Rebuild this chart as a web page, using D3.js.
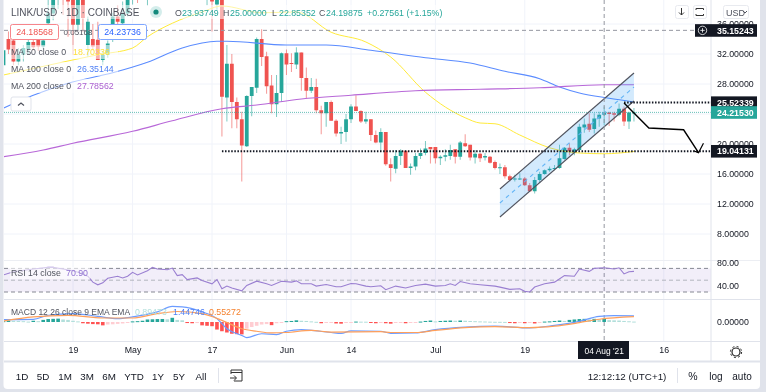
<!DOCTYPE html>
<html>
<head>
<meta charset="utf-8">
<script src="https://cdn.jsdelivr.net/npm/d3@7"></script>
<style>
html, body { margin: 0; padding: 0; background: #e0e3eb; overflow: hidden; }
svg { display: block; filter: blur(0.35px); }
text { font-family: "Liberation Sans", Arial, sans-serif; }
</style>
</head>
<body>
<svg id="chart" width="766" height="392"></svg>
<script>
// LINK/USD daily candles, 5 Apr 2021 to 9 Aug 2021
const firstDay = "2021-04-05";
const opens = [30.5,34,33.8,31,31.9,32.6,33.6,33.9,33,36.1,37.4,39.5,40.5,41,41,35.9,41,33.2,34,33.9,31.2,31.9,34.3,37,36.1,37.4,39.2,40.5,40,41,42,43,44,45,44.5,45.5,47,45.5,44,45,43,41,
  41,38.6,41,26.2,30.7,25.6,23.3,19.7,26.4,27.5,34,31.7,27.8,25.3,26.8,32.1,30.8,30.6,32.2,28.8,27.1,27.6,24.5,24.1,25.6,23.1,21.4,21.6,23.3,25,24.4,23,23.3,21.2,20.2,21.6,17.3,16.7,18.4,19.1,16.8,17,18.4,18.8,19.6,19.6,18.1,18.3,18.4,19.3,18.3,20.1,19.9,18.2,
  18.7,18.2,18.3,17.6,16.8,16.9,15.7,15.3,15.3,15.4,14.5,13.7,15.2,16,16.5,16.7,16.8,18,19.5,18.9,19.2,22.2,22.7,22,23.4,23.9,24.2,24.1,23.9,24.7,23,24.1];
const highs = [33,35,34.5,32.8,33.2,34,34.5,34.8,34.2,39.5,40,41,41,42,42,42,42,37,36,36.3,32.4,33.8,37.5,38.5,39,40,41,42,42,43,44,45,46,47,46,48,49,47,46,46,45,44,
  43,42,43,33.2,32,26.2,24.3,26.5,27.6,34.2,35.3,32.3,29.2,29.2,32.2,32.6,32.1,32.9,32.2,30.2,28.8,28.7,25.1,25.6,25.8,23.3,22.3,24,25.3,26.5,24.5,24.3,23.3,21.8,22.1,21.6,18.1,19.2,19.3,19.1,17.4,18.8,19.4,20.4,19.6,19.6,18.5,19.3,19.9,19.3,20.4,21.3,19.9,19.2,
  18.8,18.8,18.4,17.8,17.4,17.2,15.9,15.9,16.1,15.6,14.8,15.6,16.3,16.6,17,17.2,19.9,19.6,20.1,19.5,22.7,23.4,24.1,24.1,24.3,25,24.3,24.3,25.4,25,24.3,24.8];
const lows = [29.5,32,30.5,30.5,31,32,32.5,32.4,32.6,35,36.5,38,37.2,34.3,31.9,35.2,35,31.6,32.5,31.2,30.5,31.5,33.6,35.8,35.5,37,38.6,38.8,39.5,38.5,41,42,43,44,43,44,45,43,42.5,42,40.5,38.5,
  35,37.9,21,23,22.1,22.1,15,19.6,23.7,26.8,30.4,26.7,24.1,23.6,25.6,29.2,29.6,30,27.1,26.1,26.8,24.1,21.3,22.3,23.1,21,20,20.3,22.8,24.4,22.8,22.7,20.4,20.1,19.1,17.1,15,16.1,17.2,16.8,15.9,16.5,18,18.5,17.4,17.4,17.2,17.7,17.9,17.4,17.9,19.6,17.8,17.4,
  17.6,17.8,17.4,16.6,16,15.4,15,15,15.2,14.4,13.6,13.4,14.8,15.9,16.3,16.5,16.7,17.9,18.5,18.5,19.1,21.5,21.6,21.4,22.3,22.5,22.4,23,23.7,22.4,22,23];
const closes = [32.5,32.6,31,31.9,32.8,33.6,32.9,33,33.8,37.4,39.3,40.5,39.6,39,35.9,41,36.8,36.3,33,31.2,31.9,33.4,37,36.3,37.4,39.2,40.5,39.8,41,42,43,44,45,44.5,45.5,47,45.5,44,45,43,41,42,
  39,41,26.3,30.7,25.6,23.3,19.8,26.4,27.6,34,31.6,27.7,25.3,26.8,32.1,30.6,30.7,32.2,28.8,27.1,27.6,24.5,24.1,25.6,23.1,21.4,21.6,23.3,25,24.4,23,23.3,21.2,20.2,21.6,17.3,16.8,18.4,19.1,16.8,17,18.4,18.8,19.4,19.3,18.1,18.3,18.5,19.2,18.3,20.2,19.7,18.2,18.7,
  18.1,18.4,17.5,16.8,16.9,15.7,15.2,15.4,15.4,14.5,13.7,15.2,16,16.5,16.7,16.8,18.1,19.5,19,19.3,22.3,22.6,21.9,23.4,23.9,24.2,24,23.9,24.7,23,24.2,24.2];

// moving averages, read every few days: day number counted from 17 May
const ma50Days = [-42,-33,-23,-16,-13,-8,-2,2,10,17,24,31,36,43,51,54,57,62,68,74,79,85];
const ma50Values = [29.2,30.5,31.9,32.8,34.3,36.1,37.6,38.4,37.5,37.6,34.9,33.6,31.6,26.9,23.5,22.8,22.7,21.2,19.5,18.8,18.7,19];
const ma100Days = [-42,-36,-29,-20,-13,-6,1,3,15,23,32,43,52,59,66,70,74,80,85];
const ma100Values = [24.8,26.5,28.1,29.5,30.9,32.8,33.7,33.7,33.2,33.2,32.5,31.5,30.8,29.7,28.7,27.6,26.8,26.1,25.6];
const ma200Days = [-42,-34,-28,-16,-8,2,9,18,28,41,54,66,79,85];
const ma200Values = [18.3,19.2,20.1,21.7,23.1,24.7,25.2,26,26.5,27.1,27.3,27.5,27.9,27.9];

// RSI 14
const rsiDays = [-42,-40,-36,-33,-32,-30,-28,-27,-25,-24,-23,-22,-21,-19,-18,-17,-16,-15,-13,-12,-11,-9,-8,-7,-6,-5,-3,-2,0,1,2,3,4,6,7,9,11,12,14,16,17,18,20,21,23,25,26,28,29,31,32,34,35,37,39,41,43,45,47,48,49,50,52,54,57,58,60,62,63,64,65,67,69,71,73,74,76,77,79,81,82,83,84,85];
const rsiValues = [58.9,64.4,68.9,71.7,71.7,68.9,66.1,63.3,56.7,46.7,42.2,45.6,53.3,56.7,53.9,56.7,63.3,58.9,66.1,71.7,68.9,67.8,70.6,57.8,59.4,51.1,53.9,49.4,43.9,51.1,35.6,40,36.7,32,41.1,48.3,43.9,41.1,48.3,46.7,48.9,43.9,43.9,40,42.8,38.9,38.9,44.4,43.9,40,38.9,40.6,33.9,40,36.7,41.1,43.3,40,41.1,43.9,41.1,47.8,43.9,42.2,40,38.3,34.4,35.6,31.1,30,38.3,43.9,46.7,57.8,56.7,68.9,65,70,71.1,68.9,71.1,60.6,64.4,65];

// MACD 12 26 9
const macdDays = [-42,-36,-33,-28,-23,-19,-16,-11,-8,-6,-2,1,3,6,7,10,13,15,18,24,26,28,34,36,41,45,51,57,64,69,74,78,81,85];
const macdValues = [0.55,0.63,1.6,2,1.35,0.8,1.2,2.4,3.7,3.6,2.4,0.8,-1.6,-3.2,-3.7,-2.8,-3,-2.2,-1.8,-2.5,-2.7,-2.1,-2.2,-2.7,-2.6,-1.8,-1.2,-1,-1.4,-0.8,0.15,1.35,1.5,1.45];
const signalDays = [-42,-36,-29,-22,-16,-11,-7,-2,2,6,9,12,15,20,24,34,36,41,45,51,57,64,69,74,78,85];
const signalValues = [0.24,1.2,1.6,0.95,0.95,2,2.5,2,0.4,-1.6,-2.2,-2.6,-2.5,-2,-2.4,-2.3,-2.5,-2.5,-2,-1.35,-1.1,-1.35,-1,-0.15,0.65,1.27];
const histValues = [0.2,0.35,0.3,0.25,0.2,0.1,0.3,0.2,0.5,0.7,0.75,0.8,0.6,0.5,0.3,0.15,-0.3,-0.4,-0.5,-0.55,-0.8,-0.6,-0.55,-0.45,-0.35,-0.2,0.15,0.2,0.3,0.6,0.65,0.7,0.72,0.65,1,0.5,0.4,-0.25,-0.3,-0.25,-0.8,-0.9,
  -1,-1.8,-2.2,-2.5,-2.8,-2.9,-2.95,-1.6,-1.2,-0.9,-0.6,-0.5,-0.75,-0.3,-0.15,0.2,0.25,0.4,0.3,0.25,0.15,0.05,-0.3,-0.2,-0.15,-0.35,-0.4,-0.1,-0.05,0.1,0.08,0.07,-0.05,-0.3,-0.1,-0.3,-0.4,-0.15,-0.1,-0.3,-0.15,-0.05,0.1,0.25,0.35,0.15,0.25,0.3,0.35,0.3,0.35,0.3,0.25,0.2,
  0.15,0.12,0.08,0.05,0.04,0.02,-0.25,-0.3,-0.15,-0.3,-0.1,-0.35,-0.1,0.1,0.15,0.25,0.35,0.25,0.5,0.6,0.7,0.75,0.6,0.75,0.6,0.75,0.45,0.4,0.35,0.25,0.18,0.1];

// axes
const priceTicks = [8,12,16,20,28,32,36];
const gridPrices = [8,12,16,20,24,28,32,36];
const timeTicks = ["2021-04-19","2021-05-01","2021-05-17","2021-06-01","2021-06-14","2021-07-01","2021-07-19","2021-08-16"];
const timeLabels = ["19","May","17","Jun","14","Jul","19","16"];
const rsiTicks = [40,80];

// price tags on the right
const tagPrices = [35.15243,25.52339,24.2153,19.04131];
const tagLabels = ["35.15243","25.52339","24.21530","19.04131"];
const tagColors = ["#131722","#131722","#26a69a","#131722"];

// hand drawn channel and path, [day, price]
const channelTop = [[58.1,14],[85.9,29.47]];
const channelBottom = [[58.1,10.27],[85.9,25.73]];
const forecastPath = [[83.9,25.47],[88.9,22.13],[95.8,21.9],[98.7,18.84]];
const forecastHead = [[99.3,20.1],[98.7,18.84],[97.2,19.1]];

const rangeLabels = ["1D","5D","1M","3M","6M","YTD","1Y","5Y","All"];
const rangeX = [22,43,65,87,109,134,158,179,201];

const green = "#26a69a", red = "#ef5350", ink = "#131722", gridColor = "#f0f3fa", border = "#e0e3eb";
const maColors = { ma50: "#ffeb3b", ma100: "#5b8cff", ma200: "#b868d8" };

const svg = d3.select("#chart");
const day = d => d3.utcDay.offset(new Date(firstDay + "T00:00:00Z"), d);
const offsetDay = d => d + 42; // day numbers count from 17 May, the arrays from 5 Apr
const parseDay = s => new Date(s + "T00:00:00Z");

const x = d3.scaleUtc().domain([parseDay("2021-05-17"), parseDay("2021-06-14")]).range([212, 351]);
const dayX = d => x(day(offsetDay(d)));
const y = d3.scaleLinear().domain([8, 32]).range([234, 54]);
const yRsi = d3.scaleLinear().domain([30, 70]).range([292, 268.4]);
const yMacd = d3.scaleLinear().domain([-1, 1]).range([326.2, 317.8]);

// card
svg.append("rect").attr("x", 3.5).attr("y", -6).attr("width", 756.5).attr("height", 395).attr("rx", 4).attr("fill", "#fff");

const defs = svg.append("defs");
[["mainClip", 0, 260], ["rsiClip", 261, 38], ["macdClip", 300, 41]].forEach(c => {
    defs.append("clipPath").attr("id", c[0]).append("rect")
        .attr("x", 4).attr("y", c[1]).attr("width", 707).attr("height", c[2]);
});

// grid
const grid = svg.append("g");
grid.selectAll(".hg").data(gridPrices).join("line")
    .attr("x1", 4).attr("x2", 711).attr("y1", d => y(d)).attr("y2", d => y(d))
    .attr("stroke", gridColor);
grid.selectAll(".vg").data(timeTicks).join("line")
    .attr("x1", d => x(parseDay(d))).attr("x2", d => x(parseDay(d))).attr("y1", 0).attr("y2", 342)
    .attr("stroke", gridColor);

// main pane
const main = svg.append("g").attr("clip-path", "url(#mainClip)");

const days = d3.range(opens.length).map(i => i - 42);

main.selectAll(".wick").data(days).join("line")
    .attr("x1", d => dayX(d)).attr("x2", d => dayX(d))
    .attr("y1", d => y(highs[d + 42])).attr("y2", d => y(lows[d + 42]))
    .attr("stroke", d => closes[d + 42] >= opens[d + 42] ? green : red)
    .attr("stroke-opacity", 0.6);

main.selectAll(".body").data(days).join("rect")
    .attr("x", d => dayX(d) - 1.9).attr("width", 3.8)
    .attr("y", d => y(Math.max(opens[d + 42], closes[d + 42])))
    .attr("height", d => Math.max(1, Math.abs(y(opens[d + 42]) - y(closes[d + 42]))))
    .attr("fill", d => closes[d + 42] >= opens[d + 42] ? green : red);

const maLine = d3.line().x(d => dayX(d[0])).y(d => y(d[1])).curve(d3.curveMonotoneX);
const maPairs = (a, b) => a.map((d, i) => [d, b[i]]);

main.append("path").attr("d", maLine(maPairs(ma50Days, ma50Values)))
    .attr("fill", "none").attr("stroke", maColors.ma50).attr("stroke-width", 1);
main.append("path").attr("d", maLine(maPairs(ma100Days, ma100Values)))
    .attr("fill", "none").attr("stroke", maColors.ma100).attr("stroke-width", 1.1);
main.append("path").attr("d", maLine(maPairs(ma200Days, ma200Values)))
    .attr("fill", "none").attr("stroke", maColors.ma200).attr("stroke-width", 1.2);

// price lines
main.append("line").attr("x1", 4).attr("x2", 711).attr("y1", y(35.15243)).attr("y2", y(35.15243))
    .attr("stroke", "#9598a1").attr("stroke-dasharray", "4,3");
main.append("line").attr("x1", 4).attr("x2", 711).attr("y1", y(24.2153)).attr("y2", y(24.2153))
    .attr("stroke", green).attr("stroke-opacity", 0.7).attr("stroke-dasharray", "1,1");

// channel
const pt = d => [dayX(d[0]), y(d[1])];
const plain = d3.line();
main.append("path")
    .attr("d", plain([pt(channelTop[0]), pt(channelTop[1]), pt(channelBottom[1]), pt(channelBottom[0])]) + "Z")
    .attr("fill", "#2196f3").attr("fill-opacity", 0.2);
main.append("path").attr("d", plain(channelTop.map(pt))).attr("stroke", "#50535e").attr("stroke-width", 1.2).attr("fill", "none");
main.append("path").attr("d", plain(channelBottom.map(pt))).attr("stroke", "#50535e").attr("stroke-width", 1.2).attr("fill", "none");
main.append("path")
    .attr("d", plain([[channelTop[0][0], (channelTop[0][1] + channelBottom[0][1]) / 2], [channelTop[1][0], (channelTop[1][1] + channelBottom[1][1]) / 2]].map(pt)))
    .attr("stroke", "#64b5f6").attr("stroke-width", 1.1).attr("stroke-dasharray", "4,4").attr("fill", "none");

// support and resistance dotted lines
main.append("line").attr("x1", dayX(83.9)).attr("x2", 711).attr("y1", y(25.52339)).attr("y2", y(25.52339))
    .attr("stroke", ink).attr("stroke-width", 2).attr("stroke-dasharray", "1.5,1.6");
main.append("line").attr("x1", dayX(2)).attr("x2", 711).attr("y1", y(19.04131)).attr("y2", y(19.04131))
    .attr("stroke", ink).attr("stroke-width", 2).attr("stroke-dasharray", "1.5,1.6");

// forecast path
main.append("path").attr("d", plain(forecastPath.map(pt))).attr("fill", "none").attr("stroke", "#000").attr("stroke-width", 1.4);
main.append("path").attr("d", plain(forecastHead.map(pt))).attr("fill", "none").attr("stroke", "#000").attr("stroke-width", 1.2);

// crosshair
svg.append("line").attr("x1", dayX(79)).attr("x2", dayX(79)).attr("y1", 0).attr("y2", 342)
    .attr("stroke", "#9598a1").attr("stroke-dasharray", "4,3");

// RSI pane
const rsiG = svg.append("g").attr("clip-path", "url(#rsiClip)");
rsiG.append("rect").attr("x", 4).attr("width", 707).attr("y", yRsi(70)).attr("height", yRsi(30) - yRsi(70))
    .attr("fill", "#7e57c2").attr("fill-opacity", 0.1);
[70, 50, 30].forEach(v => {
    rsiG.append("line").attr("x1", 4).attr("x2", 711).attr("y1", yRsi(v)).attr("y2", yRsi(v))
        .attr("stroke", v === 50 ? "#b2b5be" : "#868993").attr("stroke-dasharray", "4,3");
});
rsiG.append("path")
    .attr("d", d3.line().x(d => dayX(d[0])).y(d => yRsi(d[1]))(maPairs(rsiDays, rsiValues)))
    .attr("fill", "none").attr("stroke", "#9a7fd1").attr("stroke-width", 1.1);

// MACD pane
const macdG = svg.append("g").attr("clip-path", "url(#macdClip)");
macdG.selectAll("rect").data(histValues).join("rect")
    .attr("x", (d, i) => dayX(i - 42) - 1.8).attr("width", 3.6)
    .attr("y", d => Math.min(yMacd(d), yMacd(0)))
    .attr("height", d => Math.max(1, Math.abs(yMacd(d) - yMacd(0))))
    .attr("fill", (d, i) => {
        const up = i === 0 || d > histValues[i - 1];
        if (d >= 0) return up ? green : "#b2dfdb";
        return up ? "#ffcdd2" : "#ff5252";
    });
const macdLine = d3.line().x(d => dayX(d[0])).y(d => yMacd(d[1])).curve(d3.curveMonotoneX);
macdG.append("path").attr("d", macdLine(maPairs(macdDays, macdValues)))
    .attr("fill", "none").attr("stroke", "#6c9cff").attr("stroke-width", 1.2);
macdG.append("path").attr("d", macdLine(maPairs(signalDays, signalValues)))
    .attr("fill", "none").attr("stroke", "#ff9f5a").attr("stroke-width", 1.2);

// pane borders
[260.5, 299.5, 341.5].forEach(b => {
    svg.append("line").attr("x1", 4).attr("x2", 760).attr("y1", b).attr("y2", b).attr("stroke", b === 260.5 ? "#eceef3" : border);
});
svg.append("line").attr("x1", 4).attr("x2", 760).attr("y1", 361.5).attr("y2", 361.5).attr("stroke", border).attr("stroke-width", 2);
svg.append("line").attr("x1", 711).attr("x2", 711).attr("y1", 0).attr("y2", 361).attr("stroke", border);

// axes
function styleAxis(g) {
    g.select(".domain").remove();
    g.selectAll("text").attr("font-size", 8.8).attr("fill", ink);
    g.selectAll("line").remove();
}
svg.append("g").attr("transform", "translate(711,0)")
    .call(d3.axisRight(y).tickValues(priceTicks).tickFormat(d3.format(".5f")).tickPadding(6).tickSize(0))
    .call(styleAxis);
svg.append("g").attr("transform", "translate(711,0)")
    .call(d3.axisRight(yRsi).tickValues(rsiTicks).tickFormat(d3.format(".2f")).tickPadding(6).tickSize(0))
    .call(styleAxis);
svg.append("g").attr("transform", "translate(711,0)")
    .call(d3.axisRight(yMacd).tickValues([0]).tickFormat(d3.format(".5f")).tickPadding(6).tickSize(0))
    .call(styleAxis);
svg.append("g").attr("transform", "translate(0,343)")
    .call(d3.axisBottom(x).tickValues(timeTicks.map(parseDay)).tickFormat((d, i) => timeLabels[i]).tickPadding(4).tickSize(0))
    .call(styleAxis);

// crosshair date tag
svg.append("rect").attr("x", 578).attr("y", 341).attr("width", 51).attr("height", 18).attr("fill", ink);
svg.append("text").attr("x", dayX(79)).attr("y", 353.5).attr("text-anchor", "middle")
    .attr("font-size", 8.4).attr("fill", "#fff").text("04 Aug '21");

// price tags
const tags = svg.append("g");
tags.selectAll("rect").data(tagPrices).join("rect")
    .attr("x", 711).attr("width", 46).attr("y", d => y(d) - 6.2).attr("height", 12.6)
    .attr("fill", (d, i) => tagColors[i]);
tags.selectAll("text").data(tagPrices).join("text")
    .attr("x", 717).attr("y", d => y(d) + 3.2).attr("font-size", 8.8).attr("font-weight", 700)
    .attr("fill", "#fff").text((d, i) => tagLabels[i]);
// plus button beside the top tag
svg.append("rect").attr("x", 695).attr("y", y(35.15243) - 6.2).attr("width", 16).attr("height", 12.6).attr("fill", ink);
svg.append("circle").attr("cx", 702.5).attr("cy", y(35.15243)).attr("r", 4.2).attr("fill", "none").attr("stroke", "#fff").attr("stroke-width", 0.8);
svg.append("path").attr("d", `M700.3 ${y(35.15243)}h4.4M702.5 ${y(35.15243) - 2.2}v4.4`).attr("stroke", "#fff").attr("stroke-width", 0.8);

// legend, top left
const legendBack = svg.append("g").attr("fill", "#fff").attr("fill-opacity", 0.55);
legendBack.append("rect").attr("x", 10).attr("y", 45).attr("width", 108).attr("height", 14);
legendBack.append("rect").attr("x", 10).attr("y", 62).attr("width", 108).attr("height", 14);
legendBack.append("rect").attr("x", 10).attr("y", 79).attr("width", 108).attr("height", 14);
legendBack.append("rect").attr("x", 10).attr("y", 5).attr("width", 130).attr("height", 14);
legendBack.append("rect").attr("x", 172).attr("y", 5).attr("width", 272).attr("height", 14);

function label(txt, lx, ly, color, size, anchor) {
    return svg.append("text").attr("x", lx).attr("y", ly).attr("fill", color)
        .attr("font-size", size || 10).attr("text-anchor", anchor || "start").text(txt);
}

label("LINK/USD · 1D · COINBASE", 11, 15.8, "#50535e", 10);
svg.append("circle").attr("cx", 156).attr("cy", 12).attr("r", 6).attr("fill", green).attr("fill-opacity", 0.2);
svg.append("circle").attr("cx", 156).attr("cy", 12).attr("r", 2.6).attr("fill", "#14897c");
[["O", "23.93749", 175], ["H", "25.00000", 223], ["L", "22.85352", 272], ["C", "24.19875", 319]].forEach(o => {
    label(o[0], o[2], 15.5, "#50535e", 8.8);
    label(o[1], o[2] + 7, 15.5, green, 8.8);
});
label("+0.27561 (+1.15%)", 367, 15.5, green, 8.8);

svg.append("rect").attr("x", 10.5).attr("y", 24.5).attr("width", 48).attr("height", 15).attr("rx", 2)
    .attr("fill", "#fff").attr("stroke", "#f7858b");
label("24.18568", 34.5, 35.2, "#ef5350", 8.8, "middle");
label("0.05168", 78, 35.2, "#50535e", 8, "middle");
svg.append("rect").attr("x", 98.5).attr("y", 24.5).attr("width", 48).attr("height", 15).attr("rx", 2)
    .attr("fill", "#fff").attr("stroke", "#7ea6ff");
label("24.23736", 122.5, 35.2, "#2962ff", 8.8, "middle");

label("MA 50 close 0", 11, 55.2, "#50535e", 8.8);
label("18.70336", 73, 55.2, "#ffdf3b", 8.8);
label("MA 100 close 0", 11, 72.2, "#50535e", 8.8);
label("26.35144", 77, 72.2, "#4d7ff5", 8.8);
label("MA 200 close 0", 11, 89.2, "#50535e", 8.8);
label("27.78562", 77, 89.2, "#ab5fd0", 8.8);

svg.append("rect").attr("x", 11).attr("y", 97).attr("width", 20).attr("height", 14).attr("rx", 2)
    .attr("fill", "#fff").attr("stroke", "#e0e3eb");
svg.append("path").attr("d", "M18 105.5l3-2.5l3 2.5").attr("fill", "none").attr("stroke", "#50535e").attr("stroke-width", 1.2);

// RSI and MACD legends
svg.append("rect").attr("x", 10).attr("y", 267).attr("width", 80).attr("height", 12).attr("fill", "#fff").attr("fill-opacity", 0.6);
label("RSI 14 close", 11, 276.2, "#50535e", 8.8);
label("70.90", 66, 276.2, "#8e6fd0", 8.8);
label("MACD 12 26 close 9 EMA EMA", 11, 315.2, "#50535e", 8.5);
label("0.89473", 135, 315.2, "#b2dfdb", 8.8);
label("1.44746", 173, 315.2, "#4d7ff5", 8.8);
label("0.55272", 209, 315.2, "#f5822f", 8.8);

// top right buttons
[[675, 13], [693, 13], [723, 25]].forEach(b => {
    svg.append("rect").attr("x", b[0] + 0.5).attr("y", 5.5).attr("width", b[1]).attr("height", 13).attr("rx", 2)
        .attr("fill", "#fff").attr("stroke", "#e8eaef");
});
svg.append("path").attr("d", "M681.5 8v7M679 12.5l2.5 2.5l2.5-2.5").attr("fill", "none").attr("stroke", "#333");
svg.append("path").attr("d", "M696 10v-1.5h7.5V10M696 14v1.5h7.5V14").attr("fill", "none").attr("stroke", "#333");
label("USD", 726, 15.5, "#50535e", 9);
svg.append("path").attr("d", "M743 11l2 2l2-2").attr("fill", "none").attr("stroke", "#50535e");

// bottom toolbar
rangeLabels.forEach((t, i) => label(t, rangeX[i], 379.5, "#131722", 9.8, "middle"));
svg.append("line").attr("x1", 218.5).attr("x2", 218.5).attr("y1", 368).attr("y2", 383).attr("stroke", border);
svg.append("path").attr("d", "M231 374v-4h11v11h-8M231 372.5h11M230 378h6M234 375.5l2.5 2.5l-2.5 2.5")
    .attr("fill", "none").attr("stroke", "#333");
label("12:12:12 (UTC+1)", 627, 379.5, "#131722", 9.8, "middle");
svg.append("line").attr("x1", 677.5).attr("x2", 677.5).attr("y1", 368).attr("y2", 383).attr("stroke", border);
label("%", 693, 380, "#131722", 10.5, "middle");
label("log", 716, 379.5, "#131722", 10, "middle");
label("auto", 742, 379.5, "#131722", 10, "middle");

// settings gear
svg.append("circle").attr("cx", 736).attr("cy", 352).attr("r", 4).attr("fill", "none").attr("stroke", "#222").attr("stroke-width", 1.2);
svg.append("circle").attr("cx", 736).attr("cy", 352).attr("r", 5.6).attr("fill", "none").attr("stroke", "#222").attr("stroke-width", 1).attr("stroke-dasharray", "2,2.4");
</script>
</body>
</html>
